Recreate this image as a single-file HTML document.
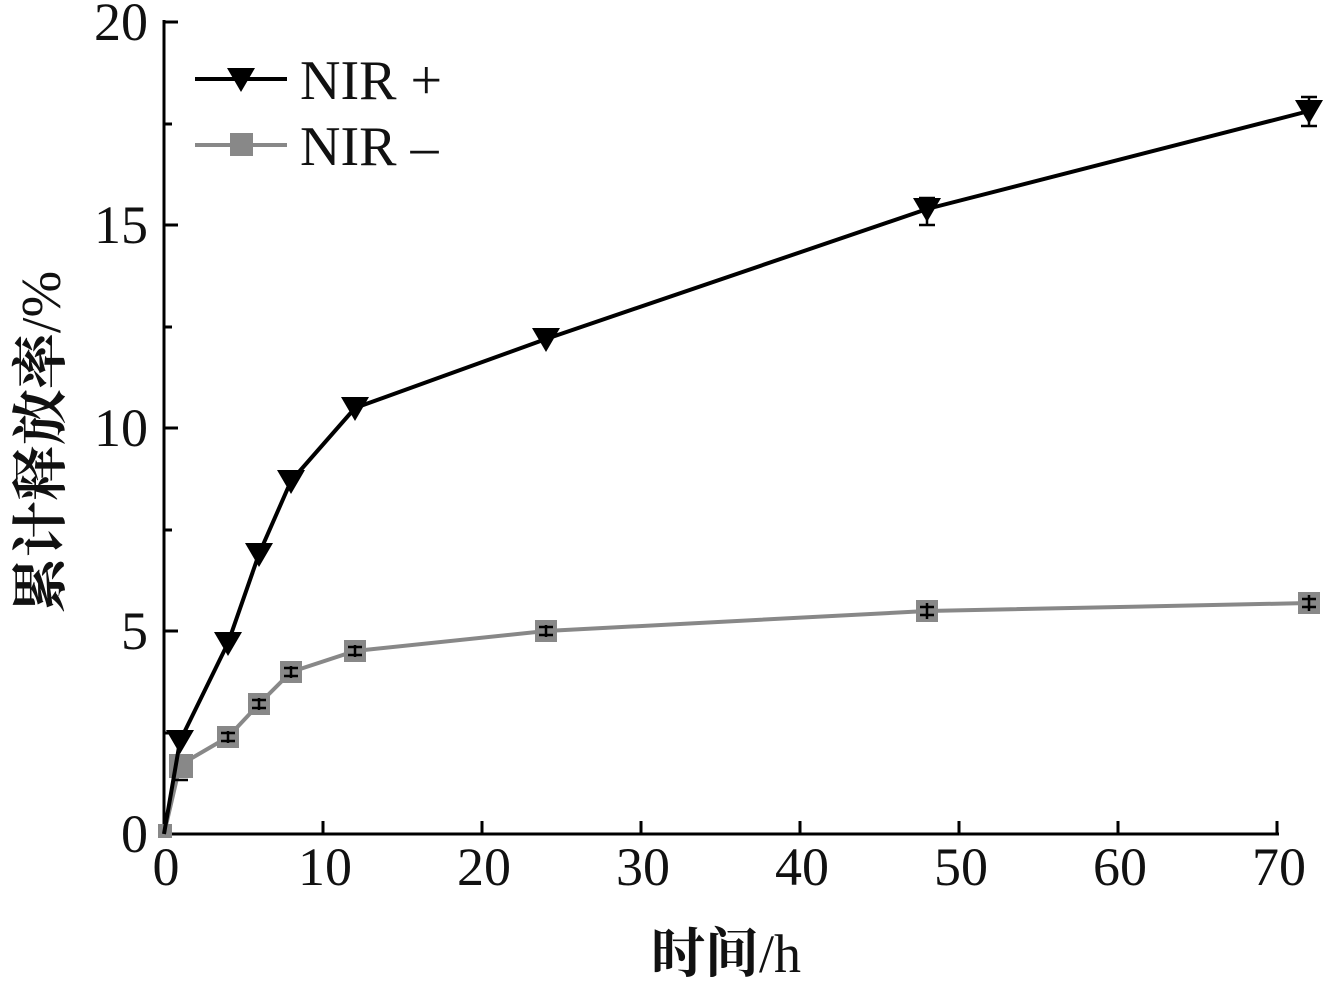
<!DOCTYPE html><html><head><style>body{margin:0;background:#fff}</style></head><body>
<svg width="1324" height="977" xmlns="http://www.w3.org/2000/svg" font-family="Liberation Serif, Noto Serif CJK SC, serif">
<g stroke="#000" stroke-width="3" fill="none">
<line x1="164" y1="20" x2="164" y2="835"/>
<line x1="162" y1="834" x2="1279" y2="834"/>
<path d="M164 22h14M164 124h8M164 225h14M164 327h8M164 428h14M164 530h8M164 631h14M164 733h8"/>
<path d="M323 834v-13M482 834v-13M641 834v-13M800 834v-13M959 834v-13M1118 834v-13M1277 834v-13"/>
</g>
<g font-size="54" fill="#111" text-anchor="middle">
<text x="166" y="885">0</text><text x="325" y="885">10</text><text x="484" y="885">20</text><text x="643" y="885">30</text><text x="802" y="885">40</text><text x="961" y="885">50</text><text x="1120" y="885">60</text><text x="1279" y="885">70</text>
</g>
<g font-size="54" fill="#111" text-anchor="end">
<text x="148" y="40">20</text><text x="148" y="243">15</text><text x="148" y="446">10</text><text x="148" y="649">5</text><text x="148" y="852">0</text>
</g>
<text x="726" y="972" font-size="54" text-anchor="middle" fill="#111" font-weight="bold">时间<tspan font-weight="normal">/h</tspan></text>
<text transform="translate(60,442) rotate(-90)" font-size="56" text-anchor="middle" fill="#111" font-weight="bold">累计释放率<tspan font-weight="normal">/%</tspan></text>
<polyline fill="none" stroke="#888" stroke-width="4" points="164,834 180,765 228,737 259,704 291,672 355,651 546,631 927,611 1309,603"/>
<g fill="#888"><rect x="158" y="824" width="14" height="14"/><rect x="169" y="754" width="24" height="24"/><rect x="217" y="726" width="22" height="22"/><rect x="248" y="693" width="22" height="22"/><rect x="280" y="661" width="22" height="22"/><rect x="344" y="640" width="22" height="22"/><rect x="535" y="620" width="22" height="22"/><rect x="916" y="600" width="22" height="22"/><rect x="1298" y="592" width="22" height="22"/></g>
<g stroke="#000" stroke-width="2.5"><path d="M172 780h16M221 733h14M221 741h14M252 700h14M252 708h14M284 668h14M284 676h14M348 647h14M348 655h14M539 627h14M539 635h14M920 607h14M920 615h14M1302 599h14M1302 607h14M927 603v16M1309 595v16M546 625v12M355 645v12M291 666v12M259 698v12M228 731v12"/></g>
<polyline fill="none" stroke="#000" stroke-width="4" points="164,834 180,741 228,643 259,554 291,481 355,408 546,339 927,209 1309,111"/>
<g fill="#000"><path d="M166,730h28l-14,24z"/><path d="M214,632h28l-14,24z"/><path d="M245,543h28l-14,24z"/><path d="M277,470h28l-14,24z"/><path d="M341,397h28l-14,24z"/><path d="M532,328h28l-14,24z"/><path d="M913,198h28l-14,24z"/><path d="M1295,100h28l-14,24z"/></g>
<g stroke="#000" stroke-width="2.5"><path d="M919 198h16M919 225h16M927 198v27M1301 97h16M1301 126h16M1309 97v29"/></g>
<line x1="195" y1="79" x2="287" y2="79" stroke="#000" stroke-width="4"/>
<path d="M227,68h28l-14,24z" fill="#000"/>
<line x1="195" y1="145" x2="287" y2="145" stroke="#888" stroke-width="4"/>
<rect x="230" y="133" width="23" height="23" fill="#888"/>
<text x="300" y="99" font-size="56" fill="#111">NIR +</text>
<text x="300" y="165" font-size="56" fill="#111">NIR –</text>
</svg></body></html>
